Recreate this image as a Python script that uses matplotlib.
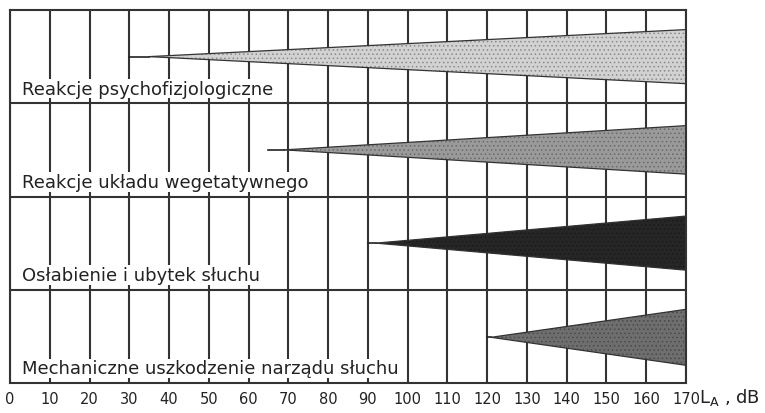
import numpy as np
import matplotlib.pyplot as plt

# pasma od gory do dolu
labels = ["Reakcje psychofizjologiczne",
          "Reakcje układu wegetatywnego",
          "Osłabienie i ubytek słuchu",
          "Mechaniczne uszkodzenie narządu słuchu"]
line_start = [30, 65, 90, 120]      # dB, poczatek cienkiej linii
wedge_start = [35, 69, 92, 121]     # dB, poczatek klina
half_width = [0.29, 0.26, 0.29, 0.30]  # polowa szerokosci przy 170 dB (w jednostkach pasma)
center = [0.50, 0.50, 0.50, 0.49]
fill_colors = ["#d2d2d2", "#9a9a9a", "#262626", "#6e6e6e"]
hatch_colors = ["#8a8a8a", "#6a6a6a", "#1a1a1a", "#4a4a4a"]

ticks = list(range(0, 171, 10))
x_max = 170

plt.rcParams['hatch.linewidth'] = 0.6
fig = plt.figure(figsize=(7.65, 4.14), dpi=100)
ax = fig.add_axes([10/765, 30/414, 676/765, 373/414])

n = len(labels)
for i in range(n):
    bottom = n - 1 - i
    yc = bottom + center[i]
    ax.plot([line_start[i], wedge_start[i]], [yc, yc], color="#222222", lw=1.2, zorder=3)
    xs = np.array([wedge_start[i], x_max])
    hw = np.array([0.0, half_width[i]])
    ax.fill_between(xs, yc - hw, yc + hw, facecolor=fill_colors[i],
                    edgecolor=hatch_colors[i], hatch="....", linewidth=0, zorder=2)
    ax.plot(xs, yc - hw, color="#333333", lw=0.9, zorder=3)
    ax.plot(xs, yc + hw, color="#333333", lw=0.9, zorder=3)
    ax.text(3.0, bottom + 0.06, labels[i], fontsize=13, color="#222222",
            ha="left", va="bottom", zorder=4,
            bbox=dict(facecolor="white", edgecolor="none", pad=0.5))

for t in ticks:
    ax.axvline(t, color="#333333", lw=1.5, zorder=1)
for y in range(1, n):
    ax.axhline(y, color="#333333", lw=1.5, zorder=1)

ax.set_xlim(0, x_max)
ax.set_ylim(0, n)
ax.set_yticks([])
ax.set_xticks(ticks)
ax.set_xticklabels([str(t) for t in ticks], fontsize=10.5, color="#222222")
ax.tick_params(axis="x", length=0, pad=6)
for s in ax.spines.values():
    s.set_linewidth(1.5)
    s.set_color("#333333")

ax.text(x_max + 3.3, -0.035, "$\\mathregular{L_A}$ , dB", fontsize=13, color="#222222",
        ha="left", va="top", clip_on=False)

fig.savefig("out.png", dpi=100)
